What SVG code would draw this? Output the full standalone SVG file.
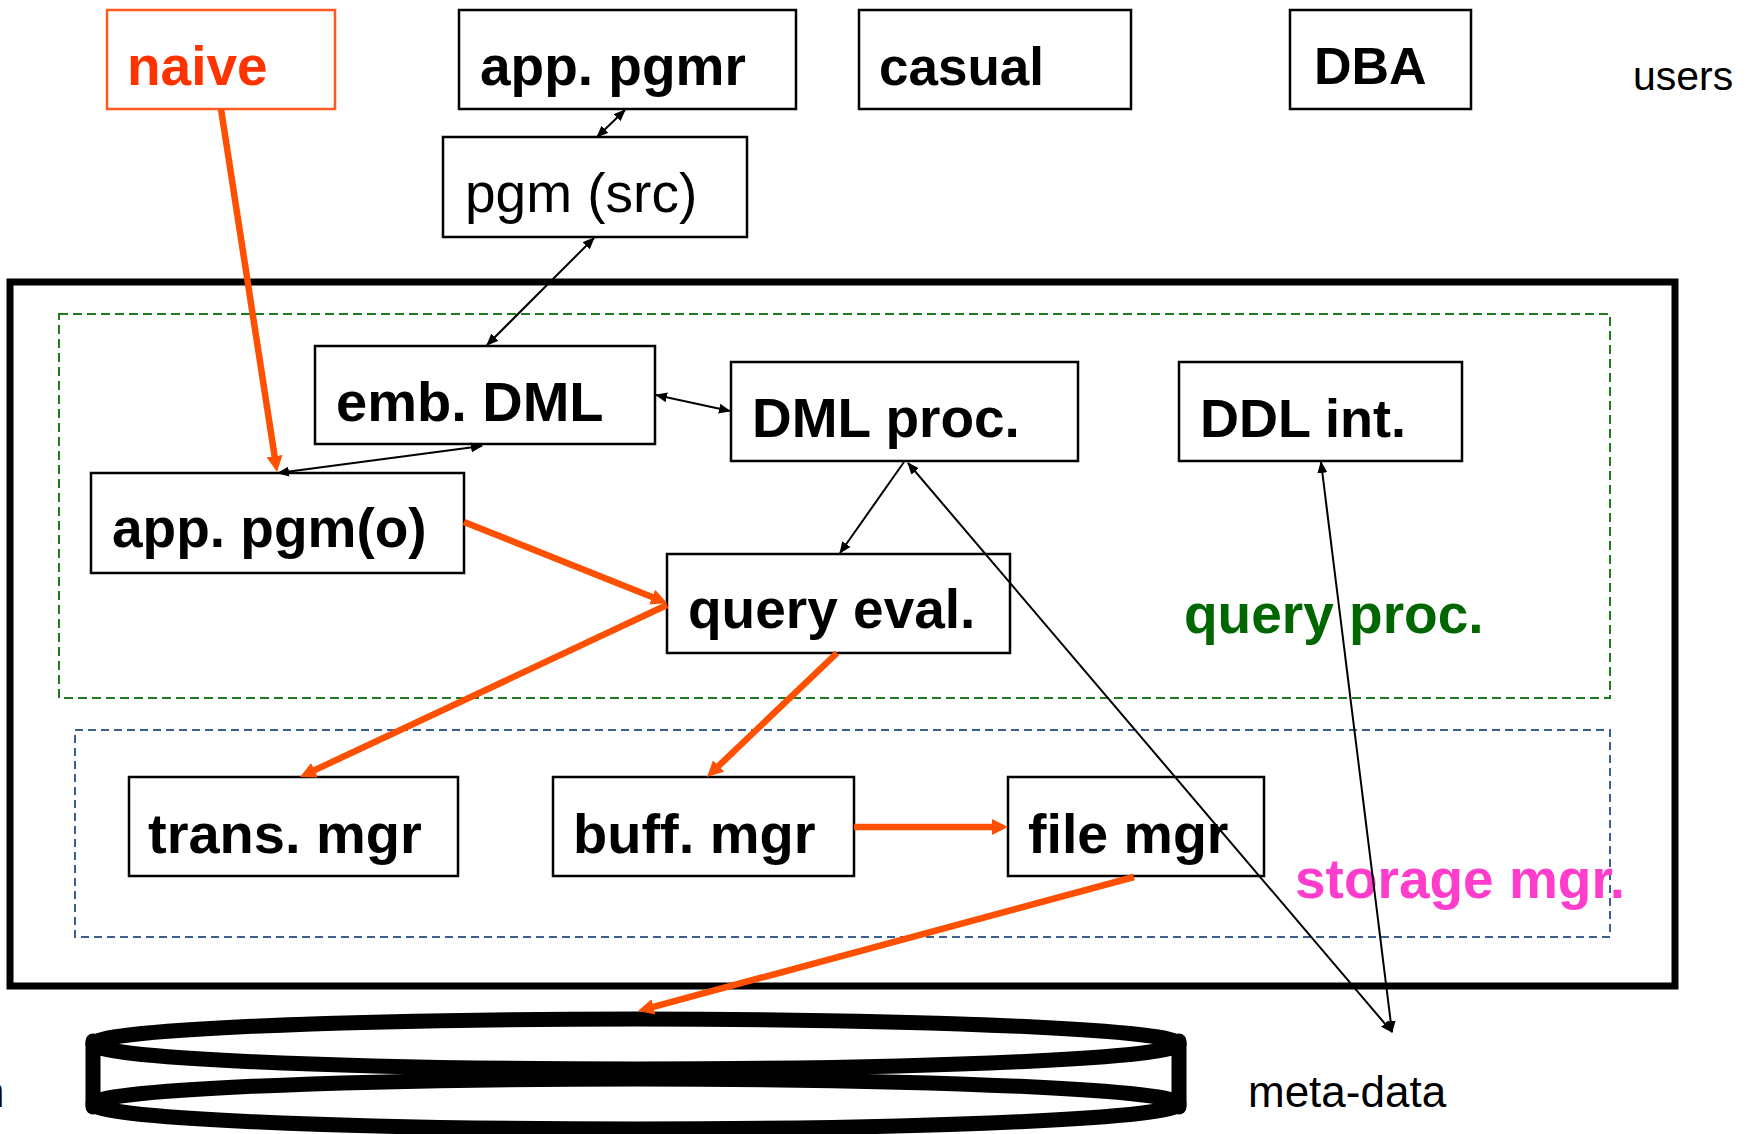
<svg xmlns="http://www.w3.org/2000/svg" width="1756" height="1134" viewBox="0 0 1756 1134">
<defs>
<style>
.box{fill:#fff;stroke:#000;stroke-width:2.5}
.lbl{font-family:"Liberation Sans",Arial,sans-serif;font-weight:bold;font-size:55px;fill:#000}
.reg{font-family:"Liberation Sans",Arial,sans-serif;font-weight:normal;fill:#000}
.blk{stroke:#000;stroke-width:2;fill:none}
.org{stroke:#ff5000;stroke-width:6.5;fill:none}
</style>
<marker id="ab" markerUnits="userSpaceOnUse" markerWidth="12" markerHeight="10" refX="11" refY="5" orient="auto-start-reverse">
<path d="M0,0 L12,5 L0,10 z" fill="#000"/>
</marker>
<marker id="ao" markerUnits="userSpaceOnUse" markerWidth="16" markerHeight="16" refX="4" refY="8" orient="auto">
<path d="M0,0 L16,8 L0,16 z" fill="#ff5000"/>
</marker>
</defs>
<rect width="1756" height="1134" fill="#fff"/>

<g id="system">
<rect x="10" y="282" width="1665" height="704" fill="none" stroke="#000" stroke-width="7"/>
</g>
<g id="query-proc-region">
<rect x="59" y="314" width="1551" height="384" fill="none" stroke="#1e7b1e" stroke-width="2" stroke-dasharray="9 5"/>
<text x="1184" y="633" class="lbl" style="fill:#006600">query proc.</text>
</g>
<g id="storage-mgr-region">
<rect x="75" y="730" width="1535" height="207" fill="none" stroke="#3b6090" stroke-width="2" stroke-dasharray="8 5"/>
</g>

<g id="naive">
<rect x="107" y="10" width="228" height="99" fill="#fff" stroke="#ff5a1f" stroke-width="2.5"/>
<text x="127" y="85" class="lbl" style="fill:#ff3300">naive</text>
</g>
<g id="app-pgmr">
<rect x="459" y="10" width="337" height="99" class="box"/>
<text x="480" y="85" class="lbl">app. pgmr</text>
</g>
<g id="casual">
<rect x="859" y="10" width="272" height="99" class="box"/>
<text x="879" y="85" class="lbl" style="font-size:53px">casual</text>
</g>
<g id="dba">
<rect x="1290" y="10" width="181" height="99" class="box"/>
<text x="1314" y="84" class="lbl" style="font-size:52px">DBA</text>
</g>
<g id="users">
<text x="1633" y="90" class="reg" font-size="41">users</text>
</g>
<g id="pgm-src">
<rect x="443" y="137" width="304" height="100" class="box"/>
<text x="465" y="212" class="reg" font-size="55">pgm (src)</text>
</g>
<g id="emb-dml">
<rect x="315" y="346" width="340" height="98" class="box"/>
<text x="336" y="421" class="lbl" style="font-size:56px">emb. DML</text>
</g>
<g id="dml-proc">
<rect x="731" y="362" width="347" height="99" class="box"/>
<text x="752" y="437" class="lbl">DML proc.</text>
</g>
<g id="ddl-int">
<rect x="1179" y="362" width="283" height="99" class="box"/>
<text x="1200" y="437" class="lbl" style="font-size:54px">DDL int.</text>
</g>
<g id="app-pgm-o">
<rect x="91" y="473" width="373" height="100" class="box"/>
<text x="112" y="547" class="lbl">app. pgm(o)</text>
</g>
<g id="query-eval">
<rect x="667" y="554" width="343" height="99" class="box"/>
<text x="688" y="628" class="lbl">query eval.</text>
</g>
<g id="trans-mgr">
<rect x="129" y="777" width="329" height="99" class="box"/>
<text x="148" y="853" class="lbl" style="font-size:56px">trans. mgr</text>
</g>
<g id="buff-mgr">
<rect x="553" y="777" width="301" height="99" class="box"/>
<text x="573" y="853" class="lbl" style="font-size:56px">buff. mgr</text>
</g>
<g id="file-mgr">
<rect x="1008" y="777" width="256" height="99" class="box"/>
<text x="1028" y="853" class="lbl" style="font-size:55.5px">file mgr</text>
</g>
<g id="storage-label">
<text x="1295" y="898" class="lbl" style="fill:#ff3dcc">storage mgr.</text>
</g>

<g id="disk" fill="none" stroke="#000" stroke-width="15">
<ellipse cx="636" cy="1104" rx="543" ry="25"/>
<ellipse cx="636" cy="1044" rx="543" ry="25"/>
<line x1="93" y1="1041" x2="93" y2="1107" stroke-linecap="round"/>
<line x1="1179" y1="1041" x2="1179" y2="1107" stroke-linecap="round"/>
</g>
<g id="meta-data">
<text x="1248" y="1107" class="reg" font-size="44">meta-data</text>
</g>
<g id="cut-label">
<text x="-20" y="1107" class="reg" font-size="44">n</text>
</g>

<g id="connectors">
<line x1="625" y1="110" x2="597" y2="137" class="blk" marker-start="url(#ab)" marker-end="url(#ab)"/>
<line x1="594" y1="238" x2="487" y2="345" class="blk" marker-start="url(#ab)" marker-end="url(#ab)"/>
<line x1="656" y1="395" x2="730" y2="411" class="blk" marker-start="url(#ab)" marker-end="url(#ab)"/>
<line x1="482" y1="446" x2="278" y2="473" class="blk" marker-start="url(#ab)" marker-end="url(#ab)"/>
<line x1="904" y1="462" x2="840" y2="553" class="blk" marker-end="url(#ab)"/>
<line x1="908" y1="463" x2="1392" y2="1032" class="blk" marker-start="url(#ab)" marker-end="url(#ab)"/>
<line x1="1321" y1="462" x2="1392" y2="1032" class="blk" marker-start="url(#ab)" marker-end="url(#ab)"/>

<line x1="221" y1="109" x2="275.2" y2="460.1" class="org" marker-end="url(#ao)"/>
<line x1="464" y1="522" x2="655.9" y2="598.6" class="org" marker-end="url(#ao)"/>
<line x1="667" y1="605" x2="310.9" y2="771.9" class="org" marker-end="url(#ao)"/>
<line x1="837" y1="653" x2="715.7" y2="768.7" class="org" marker-end="url(#ao)"/>
<line x1="854" y1="827" x2="996" y2="827" class="org" marker-end="url(#ao)"/>
<line x1="1134" y1="877" x2="649.6" y2="1007.9" class="org" marker-end="url(#ao)"/>
</g>
</svg>
